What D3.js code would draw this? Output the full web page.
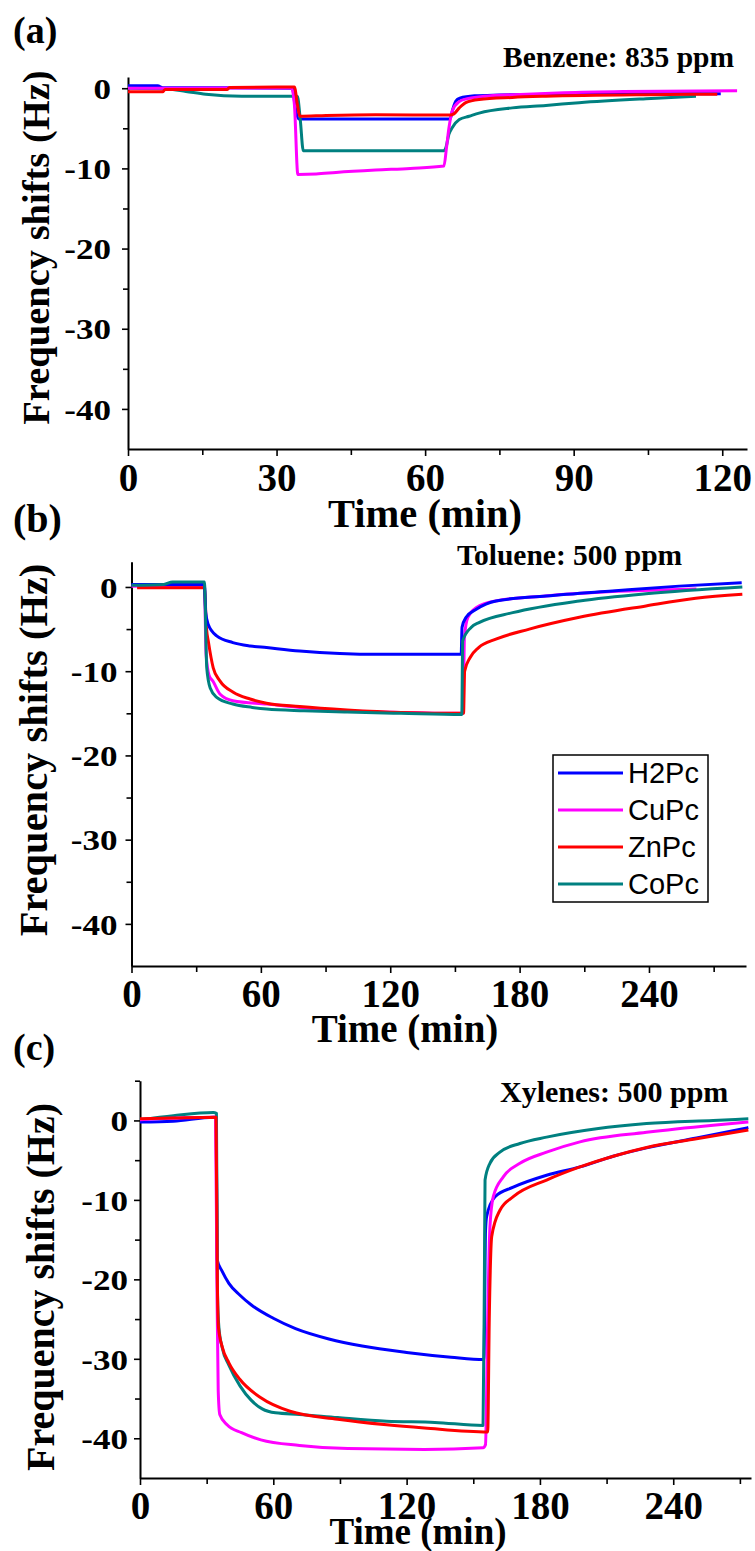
<!DOCTYPE html>
<html>
<head>
<meta charset="utf-8">
<script src="https://d3js.org/d3.v7.min.js"></script>
<style>
  html,body{margin:0;padding:0;background:#fff;}
  svg{display:block;}
</style>
</head>
<body>
<svg id="chart" width="755" height="1551"></svg>
<script>
// ---------------- DATA ----------------
const seriesNames = ["H2Pc", "CuPc", "ZnPc", "CoPc"];
const seriesColors = ["#0000FF", "#FF00FF", "#FF0000", "#008080"];

// Panel (a) Benzene 835 ppm  -- [time (min), frequency shift (Hz)]
const benzeneH2Pc = [[0,0.3],[6,0.3],[7,0.05],[20,0.05],[33.2,0.0],[33.8,-2.5],[34.5,-3.85],[45,-3.85],[55,-3.85],[65,-3.85],[65.6,-2.6],[66.2,-1.6],[67,-1.25],[70,-0.95],[75,-0.85],[85,-0.75],[100,-0.7],[119.7,-0.7]];
const benzeneCuPc = [[0,0],[10,0],[33,0.05],[33.6,-2],[34.3,-10.75],[38,-10.7],[42,-10.5],[50,-10.2],[57,-10.0],[63.8,-9.7],[64.3,-7.5],[64.8,-5],[65.5,-2.8],[66.8,-1.7],[68.5,-1.3],[72,-1.0],[78,-0.8],[88,-0.55],[100,-0.4],[123,-0.3]];
const benzeneZnPc = [[0,-0.45],[7,-0.45],[7.5,-0.15],[20,-0.15],[20.5,0.1],[33.6,0.15],[34.2,-2],[34.7,-3.5],[40,-3.4],[50,-3.3],[65,-3.35],[65.8,-3.2],[66.9,-2.45],[68.2,-1.8],[70.9,-1.4],[77.6,-1.15],[84.4,-1.0],[104.6,-0.8],[119,-0.75]];
const benzeneCoPc = [[0,0],[8,-0.1],[11.7,-0.4],[15.7,-0.75],[23,-1.0],[34.2,-1.0],[34.8,-4],[35.4,-7.8],[45,-7.8],[63.8,-7.8],[64.2,-7.4],[64.8,-5.75],[65.5,-4.9],[66.9,-3.9],[68.9,-3.5],[70.9,-3.1],[77.6,-2.45],[84.4,-2.15],[91.1,-1.8],[104.6,-1.3],[114.7,-1.0]];

// Panel (b) Toluene 500 ppm
const tolueneH2Pc = [[0,0.3],[10,0.3],[33.8,0.3],[34.4,-3],[35.5,-4.4],[39.5,-5.8],[47,-6.6],[55,-7.0],[62.6,-7.2],[78,-7.6],[96.6,-7.9],[115,-8.0],[152.9,-8.0],[153.3,-4.8],[155.2,-3.6],[159.9,-2.65],[169,-1.66],[192.3,-1.07],[223,-0.47],[254,0.1],[283,0.5]];
const tolueneCuPc = [[0,0.1],[33.8,0.2],[34.6,-8],[36,-10.5],[37.8,-11.2],[41,-12.7],[47,-13.5],[62.7,-13.9],[78,-14.3],[100,-14.7],[125,-14.9],[153.8,-15.0],[154.4,-6],[156,-3.6],[160,-2.45],[169,-1.66],[192,-1.07],[223,-0.55],[254,-0.3],[262,-0.25]];
const tolueneZnPc = [[2.6,-0.1],[33.8,-0.1],[34.8,-5],[35.6,-6.4],[37.9,-9.6],[41,-11.15],[47.2,-12.5],[55,-13.3],[62.6,-13.8],[78,-14.2],[100,-14.6],[125,-14.9],[154,-15.0],[154.5,-10],[157,-8.4],[161,-7.2],[169,-6.2],[184.5,-5.0],[207.7,-3.6],[238.6,-2.25],[261.7,-1.35],[283.3,-0.87]];
const tolueneCoPc = [[0,0.2],[15,0.3],[19,0.6],[33.8,0.6],[34.9,-9.6],[36.5,-12],[39.5,-13.1],[47,-13.9],[56,-14.3],[62.7,-14.5],[80,-14.7],[100,-14.85],[125,-15.0],[153.2,-15.15],[153.6,-6.4],[157.5,-4.8],[161.4,-4.2],[176.8,-3.05],[207.7,-1.66],[238.6,-0.8],[283.3,0.0]];

// Panel (c) Xylenes 500 ppm
const xylenesH2Pc = [[0,-0.2],[15,-0.1],[33,0.4],[34.3,0.4],[34.7,-17.5],[37,-19],[40,-20.5],[45,-22],[50,-23.2],[60,-24.9],[70,-26.2],[85,-27.5],[100,-28.4],[120,-29.2],[140,-29.8],[154.8,-30.1],[155.5,-14],[156,-12.1],[159.8,-9.6],[168,-8.4],[183,-6.9],[198,-5.85],[213,-4.5],[228,-3.45],[250.5,-2.2],[273.8,-0.9]];
const xylenesCuPc = [[0,0.1],[34,0.4],[34.6,-20],[35.2,-34],[35.9,-37],[39.2,-38.3],[45.7,-39.3],[54.4,-40.2],[71.8,-40.9],[93.5,-41.3],[128,-41.4],[154.4,-41.2],[155.5,-40.8],[156.5,-25],[157.5,-13.4],[159,-9.6],[163.5,-7.1],[171,-5.4],[183,-4.0],[198,-2.7],[228,-1.5],[258,-0.6],[273.8,-0.2]];
const xylenesZnPc = [[0,0.2],[15,0.3],[34.2,0.4],[34.8,-20],[35.3,-26],[37,-28.5],[40,-30.5],[45,-32.6],[54.4,-34.9],[67.5,-36.6],[89,-37.6],[111,-38.3],[128,-38.7],[156.5,-39.2],[157.2,-25],[158.3,-14.6],[162,-11.3],[168,-9.6],[183,-7.5],[198,-5.85],[213,-4.5],[228,-3.4],[250.5,-2.3],[273.8,-1.2]];
const xylenesCoPc = [[0,0.1],[15,0.6],[33,1.0],[34.4,0.9],[34.9,-22],[35.5,-26],[37,-28.6],[40,-30.8],[45,-33.4],[50,-35.2],[55,-36.3],[61,-36.8],[71.8,-37.0],[89,-37.4],[111,-37.85],[132.7,-38.0],[154.4,-38.4],[155,-20],[155.3,-7.5],[157.5,-5.4],[162,-4.0],[171,-2.9],[183,-2.1],[205.5,-1.05],[228,-0.4],[258,0],[273.8,0.2]];

// Ticks
const xTicksA = [0, 30, 60, 90, 120];
const xMinorA = [15, 45, 75, 105];
const xTicksBC = [0, 60, 120, 180, 240];
const xMinorBC = [30, 90, 150, 210, 270];
const yTicks = [0, -10, -20, -30, -40];
const yMinor = [-5, -15, -25, -35];
const yMinorC = [5, -5, -15, -25, -35];

const panelLetters = ["(a)", "(b)", "(c)"];
const gasLabels = ["Benzene: 835 ppm", "Toluene: 500 ppm", "Xylenes: 500 ppm"];
const xTitle = "Time (min)";
const yTitle = "Frequency shifts (Hz)";

// ---------------- DRAW ----------------
const svg = d3.select("#chart");
const SERIF = "'Liberation Serif','Times New Roman',serif";
const SANS = "'Liberation Sans',Arial,sans-serif";

const panels = [
  { data:[benzeneH2Pc,benzeneCuPc,benzeneZnPc,benzeneCoPc], order:[0,3,1,2],
    xDom:[0,125], xRange:[128,747], yDom:[-45,1.4], yRange:[449,77],
    xT:xTicksA, xM:xMinorA, yM:yMinor, yLabGap:17, xLabBase:42,
    xTitleX:425, xTitleY:527, xTitleSize:40.5,
    yTitleX:49, yTitleY:247.5, yTitleSize:38.5,
    letterY:43, letterSize:38, gasX:503, gasY:67, gasSize:29.5 },
  { data:[tolueneH2Pc,tolueneCuPc,tolueneZnPc,tolueneCoPc], order:[1,2,0,3],
    xDom:[0,285], xRange:[131.5,746], yDom:[-45,3], yRange:[966,561.7],
    xT:xTicksBC, xM:xMinorBC, yM:yMinor, yLabGap:14, xLabBase:41,
    xTitleX:405, xTitleY:1042, xTitleSize:39,
    yTitleX:47, yTitleY:750, yTitleSize:40.5,
    letterY:532, letterSize:40, gasX:457, gasY:565, gasSize:29.5, legend:true },
  { data:[xylenesH2Pc,xylenesCuPc,xylenesZnPc,xylenesCoPc], order:[0,3,1,2],
    xDom:[0,275], xRange:[140,751], yDom:[-45,5], yRange:[1478,1080.7],
    xT:xTicksBC, xM:xMinorBC, yM:yMinorC, yLabGap:12, xLabBase:41,
    xTitleX:418, xTitleY:1544, xTitleSize:37,
    yTitleX:53.5, yTitleY:1287, yTitleSize:40,
    letterY:1060, letterSize:38, gasX:500, gasY:1102, gasSize:30 }
];

panels.forEach((p, pi) => {
  const x = d3.scaleLinear().domain(p.xDom).range(p.xRange);
  const y = d3.scaleLinear().domain(p.yDom).range(p.yRange);
  const g = svg.append("g");
  const x0 = x(0), yBottom = p.yRange[0];

  const xAxis = g.append("g").attr("transform", `translate(0,${yBottom})`)
    .call(d3.axisBottom(x).tickValues(p.xT).tickSize(7).tickSizeOuter(0).tickPadding(4).tickFormat(d => String(d)));
  g.append("g").attr("transform", `translate(0,${yBottom})`)
    .call(d3.axisBottom(x).tickValues(p.xM).tickSize(6).tickSizeOuter(0).tickFormat(""))
    .call(s => s.select(".domain").remove());
  const yAxis = g.append("g").attr("transform", `translate(${x0},0)`)
    .call(d3.axisLeft(y).tickValues(yTicks).tickSize(6).tickSizeOuter(0).tickFormat(d => String(d)));
  g.append("g").attr("transform", `translate(${x0},0)`)
    .call(d3.axisLeft(y).tickValues(p.yM).tickSize(5).tickSizeOuter(0).tickFormat(""))
    .call(s => s.select(".domain").remove());

  g.selectAll(".domain").attr("stroke", "#000").attr("stroke-width", 2);
  g.selectAll(".tick line").attr("stroke", "#000").attr("stroke-width", 1.6);

  xAxis.selectAll(".tick text")
    .attr("font-family", SERIF).attr("font-weight", "bold").attr("font-size", 39)
    .attr("fill", "#000").attr("dy", null).attr("y", p.xLabBase);
  yAxis.selectAll(".tick text")
    .attr("font-family", SERIF).attr("font-weight", "bold").attr("font-size", 30)
    .attr("fill", "#000").attr("x", 0).attr("dy", "0.34em")
    .attr("text-anchor", "end")
    .attr("transform", `translate(${-p.yLabGap},0) scale(1.17,1)`);

  const line = d3.line().x(d => x(d[0])).y(d => y(d[1])).curve(d3.curveMonotoneX);
  p.order.forEach(si => {
    g.append("path").datum(p.data[si])
      .attr("fill", "none").attr("stroke", seriesColors[si])
      .attr("stroke-width", 3).attr("stroke-linejoin", "round")
      .attr("d", line);
  });

  g.append("text").attr("x", p.xTitleX).attr("y", p.xTitleY)
    .attr("text-anchor", "middle").attr("font-family", SERIF).attr("font-weight", "bold")
    .attr("font-size", p.xTitleSize).text(xTitle);
  g.append("text").attr("transform", `translate(${p.yTitleX},${p.yTitleY}) rotate(-90)`)
    .attr("text-anchor", "middle").attr("font-family", SERIF).attr("font-weight", "bold")
    .attr("font-size", p.yTitleSize).text(yTitle);
  g.append("text").attr("x", 13).attr("y", p.letterY)
    .attr("font-family", SERIF).attr("font-weight", "bold")
    .attr("font-size", p.letterSize).text(panelLetters[pi]);
  g.append("text").attr("x", p.gasX).attr("y", p.gasY)
    .attr("font-family", SERIF).attr("font-weight", "bold")
    .attr("font-size", p.gasSize).text(gasLabels[pi]);

  if (p.legend) {
    const lg = g.append("g");
    lg.append("rect").attr("x", 553).attr("y", 755).attr("width", 155).attr("height", 147)
      .attr("fill", "#fff").attr("stroke", "#000").attr("stroke-width", 1.5);
    seriesNames.forEach((n, i) => {
      const cy = 773 + i * 37;
      lg.append("line").attr("x1", 558).attr("x2", 623).attr("y1", cy).attr("y2", cy)
        .attr("stroke", seriesColors[i]).attr("stroke-width", 3);
      lg.append("text").attr("x", 628).attr("y", cy).attr("dy", "0.36em")
        .attr("font-family", SANS).attr("font-size", 29).text(n);
    });
  }
});
</script>
</body>
</html>
